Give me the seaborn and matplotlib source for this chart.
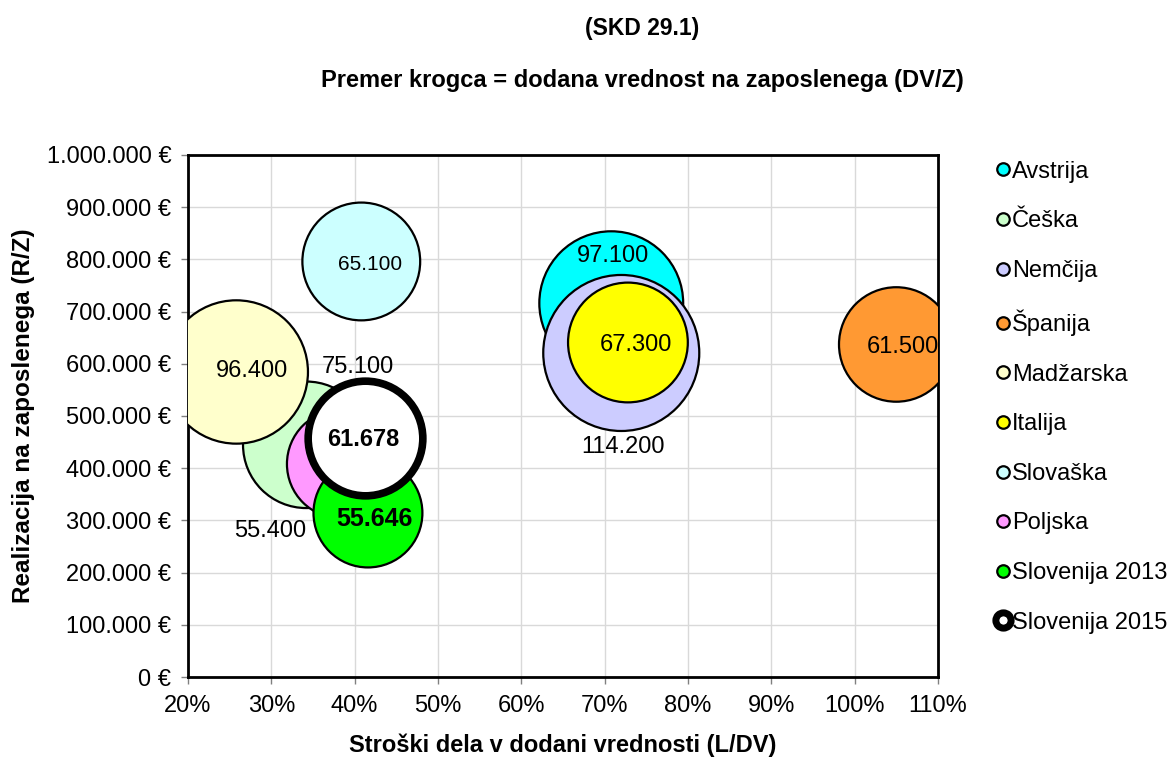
import numpy as np
import pandas as pd
import matplotlib
matplotlib.use("Agg")
import matplotlib.pyplot as plt
from matplotlib.lines import Line2D
from matplotlib.ticker import FuncFormatter, MultipleLocator
import seaborn as sns

# Data (SKD 29.1)
countries = ["Avstrija", "Češka", "Nemčija", "Španija", "Madžarska",
             "Italija", "Slovaška", "Poljska", "Slovenija 2013", "Slovenija 2015"]
stroski_dela = [70.8, 34.2, 72.0, 105.0, 25.8, 72.8, 40.8, 38.4, 41.6, 41.2]   # L/DV in %
realizacija = [716000, 444800, 620700, 637000, 584300, 640800, 796000, 408000, 314200, 457900]  # R/Z
dv_z = [97100, 75100, 114200, 61500, 96400, 67300, 65100, 55400, 55646, 61678]  # bubble size
colors = ["#00FFFF", "#CCFFCC", "#CCCCFF", "#FF9933", "#FFFFCC",
          "#FFFF00", "#CCFFFF", "#FF99FF", "#00FF00", "#FFFFFF"]

# label offsets from bubble centre (points), font size, bold
label_offset = [(1, 34), (37, 56), (1, -68), (5, -2), (11, 1),
                (6, -2), (6, -2), (-51, -48), (5, -4), (-1, -1)]
label_size = [17, 17, 17, 17, 17, 17, 15, 17, 18, 17]
label_bold = [False] * 8 + [True, True]

df = pd.DataFrame({"country": countries, "x": stroski_dela, "y": realizacija, "dv": dv_z})

sns.set_style("white")
plt.rcParams["font.family"] = ["Liberation Sans", "DejaVu Sans"]
plt.rcParams.update({"text.color": "black", "axes.labelcolor": "black",
                     "xtick.color": "black", "ytick.color": "black"})

fig = plt.figure(figsize=(11.74, 7.63), dpi=100)
ax = fig.add_axes([0.1601, 0.1127, 0.6388, 0.6842])

# area of bubble proportional to DV/Z (points^2 per unit of DV/Z)
k = 110.5 / 1000
main = df.iloc[:9]
sns.scatterplot(data=main, x="x", y="y", hue="country", size="dv",
                palette=dict(zip(countries, colors)),
                sizes=(k * main["dv"].min(), k * main["dv"].max()),
                size_norm=(main["dv"].min(), main["dv"].max()),
                edgecolor="black", linewidth=1.6, alpha=1, legend=False, ax=ax, zorder=3)
last = df.iloc[9:]
sns.scatterplot(data=last, x="x", y="y", s=k * last["dv"].iloc[0], color="white",
                edgecolor="black", linewidth=5.5, legend=False, ax=ax, zorder=4)

for i, row in df.iterrows():
    ax.annotate(f"{row['dv']:,}".replace(",", "."), (row["x"], row["y"]),
                xytext=label_offset[i], textcoords="offset points",
                ha="center", va="center", fontsize=label_size[i],
                fontweight="bold" if label_bold[i] else "normal", zorder=6)

ax.set_xlim(20, 110)
ax.set_ylim(0, 1000000)
ax.xaxis.set_major_locator(MultipleLocator(10))
ax.yaxis.set_major_locator(MultipleLocator(100000))
ax.xaxis.set_major_formatter(FuncFormatter(lambda v, p: f"{v:.0f}%"))
ax.yaxis.set_major_formatter(FuncFormatter(lambda v, p: f"{v:,.0f} €".replace(",", ".")))
ax.tick_params(axis="both", labelsize=17, length=5, width=1, direction="out",
               bottom=True, left=True, color="#808080", labelcolor="black")
ax.tick_params(axis="x", pad=8)
ax.tick_params(axis="y", pad=7)
ax.grid(True, color="#D9D9D9", linewidth=1)
ax.set_axisbelow(True)
for sp in ax.spines.values():
    sp.set_color("black")
    sp.set_linewidth(2)

ax.set_xlabel("Stroški dela v dodani vrednosti (L/DV)", fontsize=17, fontweight="bold", labelpad=12)
ax.set_ylabel("Realizacija na zaposlenega (R/Z)", fontsize=17.5, fontweight="bold", labelpad=8)

fig.text(0.547, 0.963, "(SKD 29.1)", ha="center", va="center", fontsize=16.5, fontweight="bold")
fig.text(0.547, 0.895, "Premer krogca = dodana vrednost na zaposlenega (DV/Z)",
         ha="center", va="center", fontsize=17, fontweight="bold")

handles = []
for c, col in zip(countries, colors):
    if c == "Slovenija 2015":
        h = Line2D([], [], marker="o", linestyle="", markersize=11, markerfacecolor="white",
                   markeredgecolor="black", markeredgewidth=5)
    else:
        h = Line2D([], [], marker="o", linestyle="", markersize=9, markerfacecolor=col,
                   markeredgecolor="black", markeredgewidth=1.6)
    handles.append(h)
fig.legend(handles, countries, loc="upper left", bbox_to_anchor=(0.84, 0.802),
           frameon=False, fontsize=17, handlelength=0.6, handletextpad=0.1,
           labelspacing=1.17, borderaxespad=0)

fig.savefig("out.png", dpi=100)
